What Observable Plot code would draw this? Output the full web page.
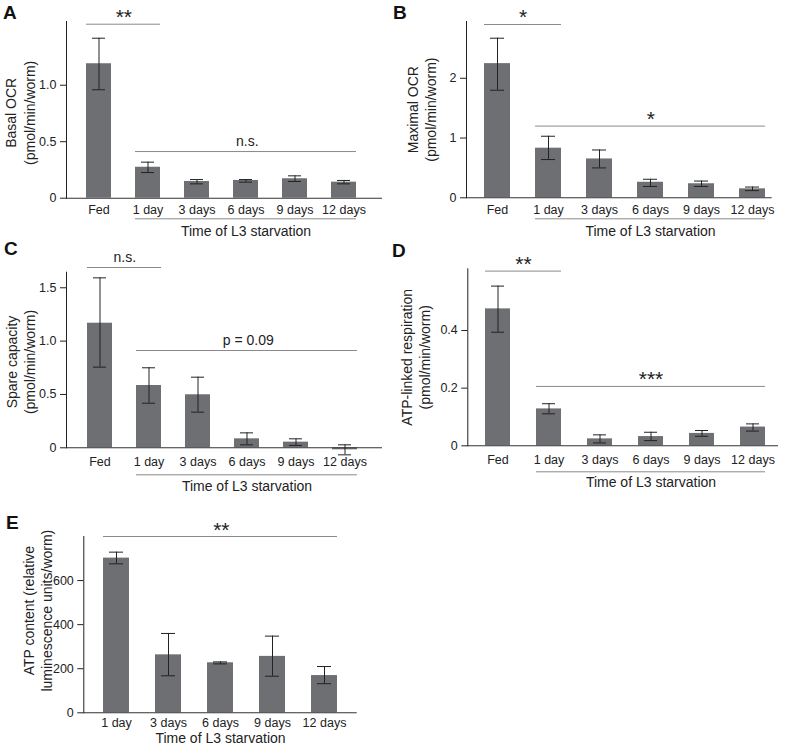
<!DOCTYPE html>
<html><head><meta charset="utf-8">
<script src="https://cdn.jsdelivr.net/npm/d3@7"></script>
<script src="https://cdn.jsdelivr.net/npm/@observablehq/plot@0.6"></script>
<style>
body{margin:0;background:#fff;font-family:"Liberation Sans",Arial,sans-serif;}
#fig{position:relative;width:786px;height:749px;overflow:hidden;background:#fff;}
.panel{position:absolute;}
.letter{position:absolute;font-weight:bold;font-size:19px;line-height:19px;color:#111;}
</style></head><body><div id="fig"></div>
<script>
// ---- data ----
const respCategories = ["Fed", "1 day", "3 days", "6 days", "9 days", "12 days"];
const atpCategories = ["1 day", "3 days", "6 days", "9 days", "12 days"];
const xTitle = "Time of L3 starvation";

const basalMean = [1.19, 0.274, 0.148, 0.157, 0.172, 0.142];
const basalLow  = [0.96, 0.227, 0.127, 0.142, 0.148, 0.127];
const basalHigh = [1.416, 0.319, 0.165, 0.165, 0.198, 0.157];

const maximalMean = [2.245, 0.83, 0.65, 0.26, 0.235, 0.15];
const maximalLow  = [1.80, 0.64, 0.50, 0.19, 0.19, 0.12];
const maximalHigh = [2.67, 1.03, 0.80, 0.31, 0.28, 0.18];

const spareMean = [1.168, 0.584, 0.497, 0.084, 0.053, -0.019];
const spareLow  = [0.756, 0.418, 0.334, 0.028, 0.022, -0.066];
const spareHigh = [1.593, 0.75, 0.662, 0.14, 0.084, 0.028];

const atpLinkedMean = [0.475, 0.128, 0.024, 0.032, 0.043, 0.065];
const atpLinkedLow  = [0.394, 0.111, 0.010, 0.018, 0.033, 0.051];
const atpLinkedHigh = [0.554, 0.146, 0.038, 0.047, 0.053, 0.076];

const atpMean = [702, 263, 227, 256, 169];
const atpLow  = [676, 168, 222, 166, 132];
const atpHigh = [729, 360, 231, 348, 210];

const ticksA = [0, 0.5, 1.0];
const ticksB = [0, 1, 2];
const ticksC = [0, 0.5, 1.0, 1.5];
const ticksD = [0, 0.2, 0.4];
const ticksE = [0, 200, 400, 600];

const sigA = [{from: "Fed", to: "1 day", y: 1.54, label: "**"}, {from: "1 day", to: "12 days", y: 0.413, label: "n.s."}];
const sigB = [{from: "Fed", to: "1 day", y: 2.90, label: "*"}, {from: "1 day", to: "12 days", y: 1.2, label: "*"}];
const sigC = [{from: "Fed", to: "1 day", y: 1.69, label: "n.s."}, {from: "1 day", to: "12 days", y: 0.912, label: "p = 0.09"}];
const sigD = [{from: "Fed", to: "1 day", y: 0.606, label: "**"}, {from: "1 day", to: "12 days", y: 0.206, label: "***"}];
const sigE = [{from: "1 day", to: "12 days", y: 800, label: "**"}];

// ---- drawing ----
const FONT = '"Liberation Sans", Arial, sans-serif';
const fig = document.getElementById("fig");

function panel(cfg) {
  const cats = cfg.cats, n = cats.length;
  const data = cats.map((c, i) => ({cat: c, mean: cfg.mean[i], lo: cfg.lo[i], hi: cfg.hi[i]}));
  const [r0, r1] = cfg.range;
  const step = (r1 - r0 - cfg.bw) / (n - 1);
  const first = cats.indexOf("1 day");
  const midCat = cats[(first + n - 1) / 2];
  const fmt = d => d === 0 ? "0" : d.toFixed(cfg.decimals);
  const marks = [
    Plot.barY(data, {x: "cat", y: "mean", fill: "#6e6f72"}),
    Plot.ruleY([0], {stroke: "#333", strokeWidth: 1.1}),
    Plot.ruleX(data, {x: "cat", y1: "lo", y2: "hi", stroke: "#222"}),
    Plot.tickY(data, {x: "cat", y: "lo", stroke: "#222", insetLeft: cfg.cap, insetRight: cfg.cap}),
    Plot.tickY(data, {x: "cat", y: "hi", stroke: "#222", insetLeft: cfg.cap, insetRight: cfg.cap}),
    Plot.text([cfg.ylabel], {text: d => d, frameAnchor: "left", textAnchor: "middle", rotate: -90,
      dx: cfg.ylabelDx, dy: cfg.ylabelDy, fontSize: 14, lineHeight: 1.3, fill: "#222"}),
    Plot.text([xTitle], {text: d => d, x: () => midCat, y: () => 0, dy: cfg.titleDy, lineAnchor: "middle", fontSize: 14, fill: "#222"})
  ];
  if (cfg.underlineDy != null) {
    marks.push(Plot.ruleY([0], {x1: () => cats[first], x2: () => cats[n - 1], dy: cfg.underlineDy, stroke: "#8a8a8a"}));
  }
  for (const s of cfg.sig) {
    marks.push(Plot.ruleY([s], {y: "y", x1: "from", x2: "to", stroke: "#8a8a8a"}));
    const i0 = cats.indexOf(s.from), i1 = cats.indexOf(s.to);
    const star = /^\*+$/.test(s.label);
    marks.push(Plot.text([s], {x: "from", y: "y", text: "label", dx: (i1 - i0) * step / 2,
      dy: star ? 0 : -6, lineAnchor: "bottom", fontSize: star ? 21 : 14, fill: "#222"}));
  }
  const svg = Plot.plot({
    width: cfg.width, height: cfg.height,
    marginLeft: cfg.ml, marginRight: cfg.mr, marginTop: cfg.mt, marginBottom: cfg.mb,
    style: {background: "transparent", overflow: "visible", fontFamily: FONT, fontSize: "12.5px", color: "#222"},
    x: {type: "band", domain: cats, range: [r0, r1], paddingInner: 1 - cfg.bw / step, paddingOuter: 0,
        label: null, tickSize: 0, tickPadding: cfg.xPad},
    y: {domain: [0, cfg.ymax], ticks: cfg.ticks, tickFormat: fmt, tickSize: 6, tickPadding: 4, label: null, line: true},
    marks
  });
  const div = document.createElement("div");
  div.className = "panel";
  div.style.left = cfg.left + "px";
  div.style.top = cfg.top + "px";
  div.appendChild(svg);
  fig.appendChild(div);
  const L = document.createElement("div");
  L.className = "letter";
  L.textContent = cfg.letter;
  L.style.left = cfg.letterPos[0] + "px";
  L.style.top = cfg.letterPos[1] + "px";
  fig.appendChild(L);
}

panel({letter: "A", letterPos: [3, 2.5], left: 0, top: 0, width: 390, height: 250, ml: 66, mr: 8, mt: 21, mb: 52.3,
  cats: respCategories, mean: basalMean, lo: basalLow, hi: basalHigh, ymax: 1.564, ticks: ticksA, decimals: 1,
  range: [84.3, 357.7], bw: 25, cap: 6, xPad: 7, sig: sigA, underlineDy: 20.6, titleDy: 33,
  ylabel: "Basal OCR\n(pmol/min/worm)", ylabelDx: -46.8, ylabelDy: 3});

panel({letter: "B", letterPos: [393, 2.5], left: 390, top: 0, width: 396, height: 250, ml: 76, mr: 14.3, mt: 21, mb: 52.7,
  cats: respCategories, mean: maximalMean, lo: maximalLow, hi: maximalHigh, ymax: 2.95, ticks: ticksB, decimals: 0,
  range: [93.3, 375], bw: 25.7, cap: 6, xPad: 7, sig: sigB, underlineDy: 21, titleDy: 34,
  ylabel: "Maximal OCR\n(pmol/min/worm)", ylabelDx: -45.2, ylabelDy: 0});

panel({letter: "C", letterPos: [4, 239], left: 0, top: 225, width: 390, height: 270, ml: 66, mr: 8, mt: 46.7, mb: 47.7,
  cats: respCategories, mean: spareMean, lo: spareLow, hi: spareHigh, ymax: 1.646, ticks: ticksC, decimals: 1,
  range: [85, 358.3], bw: 25, cap: 6, xPad: 9, sig: sigC, underlineDy: 27, titleDy: 39,
  ylabel: "Spare capacity\n(pmol/min/worm)", ylabelDx: -46.5, ylabelDy: 2});

panel({letter: "D", letterPos: [392, 241], left: 390, top: 225, width: 396, height: 270, ml: 77.3, mr: 8, mt: 43.3, mb: 49.7,
  cats: respCategories, mean: atpLinkedMean, lo: atpLinkedLow, hi: atpLinkedHigh, ymax: 0.614, ticks: ticksD, decimals: 1,
  range: [95, 375], bw: 25, cap: 6, xPad: 9, sig: sigD, underlineDy: 26, titleDy: 37,
  ylabel: "ATP-linked respiration\n(pmol/min/worm)", ylabelDx: -52.3, ylabelDy: 0});

panel({letter: "E", letterPos: [6, 512.5], left: 0, top: 460, width: 390, height: 289, ml: 83.3, mr: 33.3, mt: 76, mb: 36.7,
  cats: atpCategories, mean: atpMean, lo: atpLow, hi: atpHigh, ymax: 800, ticks: ticksE, decimals: 0,
  range: [102, 338], bw: 26.3, cap: 6, xPad: 5, sig: sigE, underlineDy: null, titleDy: 26,
  ylabel: "ATP content (relative\nluminescence units/worm)", ylabelDx: -46.8, ylabelDy: -14});
</script></body></html>
